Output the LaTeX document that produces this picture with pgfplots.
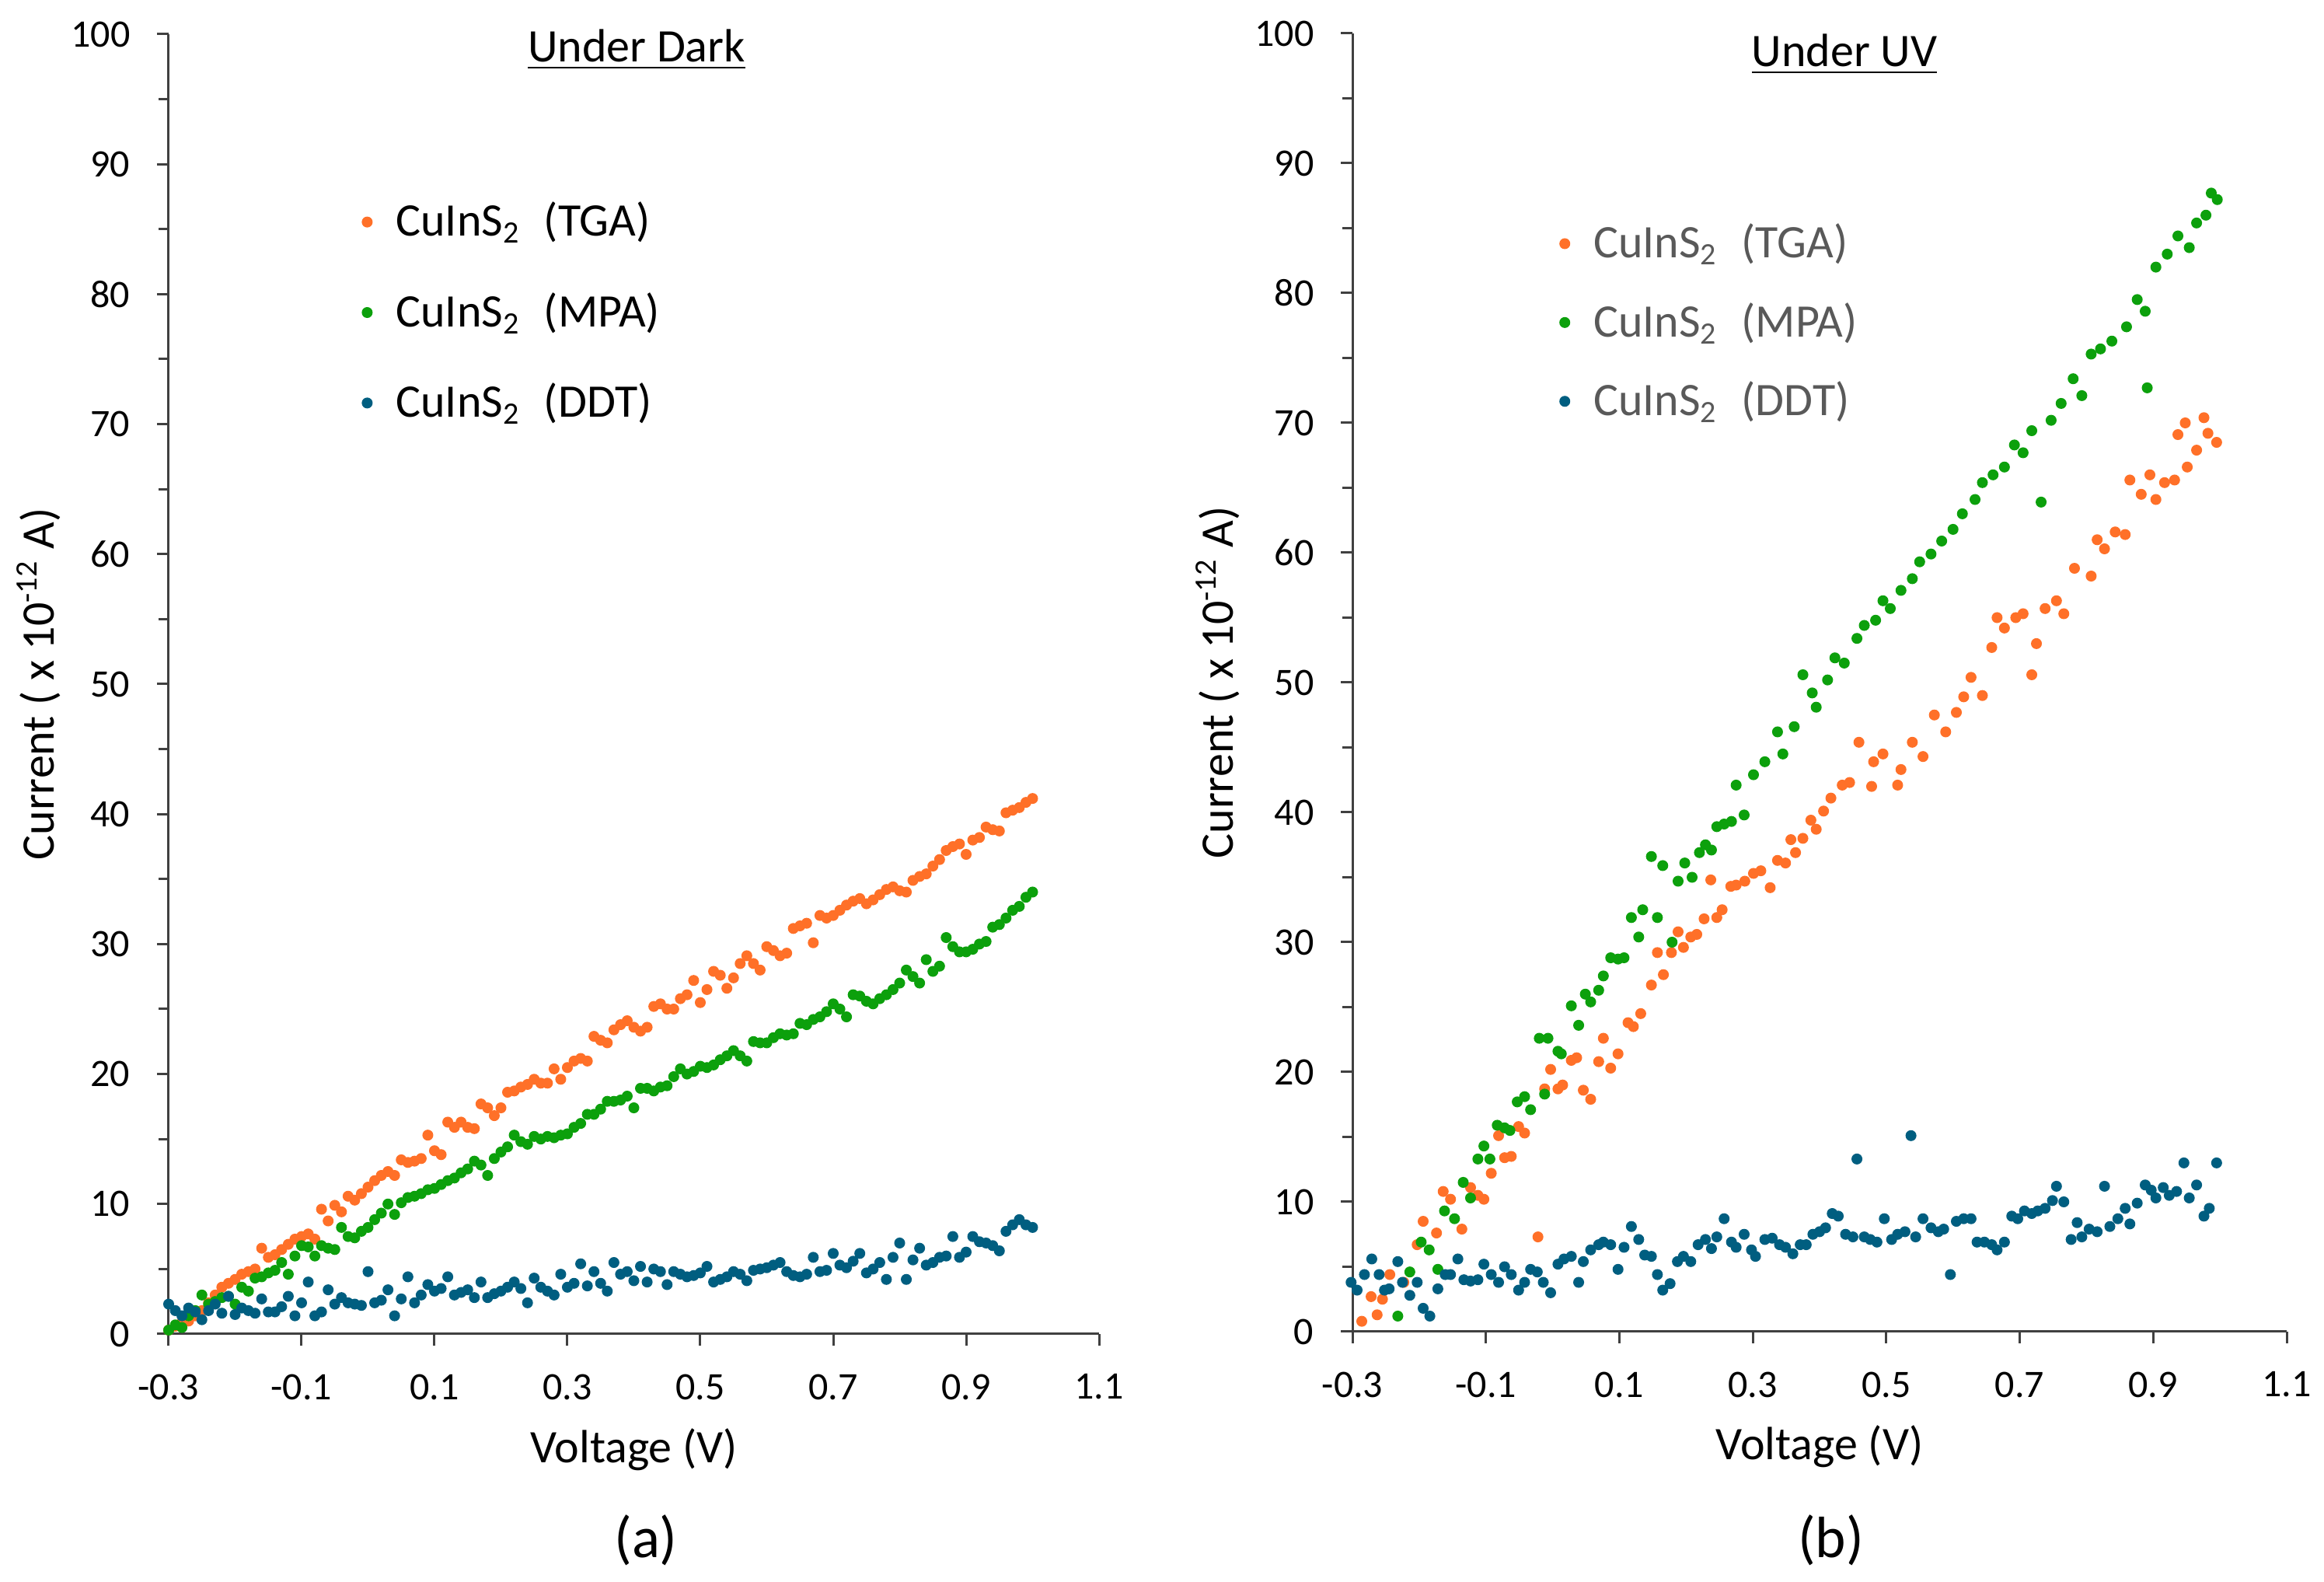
\documentclass[border=0pt]{standalone}
\usepackage{fontspec}
\setmainfont{Carlito}
\usepackage{pgfplots}
\pgfplotsset{compat=1.18}
\definecolor{cOr}{RGB}{255,112,40}
\definecolor{cGr}{RGB}{12,160,12}
\definecolor{cBl}{RGB}{0,94,128}
\definecolor{axc}{RGB}{64,64,64}
\pgfplotsset{
 myaxis/.style={
  scale only axis,
  axis x line=bottom, axis y line=left,
  axis line style={-, axc, line width=0.6pt},
  xmin=-0.3, xmax=1.1, ymin=0, ymax=100,
  xtick={-0.3,-0.1,0.1,0.3,0.5,0.7,0.9,1.1},
  xticklabels={-0.3,-0.1,0.1,0.3,0.5,0.7,0.9,1.1},
  ytick={0,10,...,100},
  minor ytick={5,15,...,95},
  tick align=outside,
  major tick length=3pt, minor tick length=2.6pt,
  tick style={axc, line width=0.6pt},
  /pgf/number format/assume math mode=true,
  ticklabel style={font=\fontsize{10}{12}\selectfont},
  yticklabel style={xshift=-3.4pt},
  xticklabel style={yshift=-3.8pt},
  label style={font=\fontsize{12}{14}\selectfont},
  legend cell align=left,
  legend style={draw=none, fill=none, font=\fontsize{12}{14}\selectfont, anchor=north west, row sep=9pt},
  clip=false,
 },
 ser/.style={only marks, mark=*, mark size=1.2pt, draw=#1, fill=#1,
   legend image code/.code={\draw[##1] plot coordinates {(0.1cm,0cm)}; \path[draw=none,fill=none] (0.1cm,0cm) -- (0.29cm,0cm);}},
}
\begin{document}
\begin{tikzpicture}
\path[use as bounding box] (0pt,0pt) rectangle (598pt,407pt);
% ---------------- left panel ----------------
\begin{axis}[myaxis, at={(43.4pt,63.8pt)}, anchor=south west, width=239.4pt, height=334.4pt,
  xlabel={Voltage (V)}, ylabel={Current ( x 10\textsuperscript{-12} A)},
  xlabel style={at={(axis description cs:0.5,-0.0891)}, anchor=center},
  ylabel style={at={(axis description cs:-0.1395,0.5)}, anchor=center},
  legend style={at={(axis description cs:0.195,0.8834)}}]
\addplot[ser=cOr] coordinates {(-0.30,0.3)(-0.29,0.6)(-0.28,0.9)(-0.27,1.0)(-0.26,1.4)(-0.25,1.8)(-0.24,2.4)(-0.23,3.0)(-0.22,3.6)(-0.21,3.9)(-0.20,4.2)(-0.19,4.6)(-0.18,4.8)(-0.17,5.0)(-0.16,6.6)(-0.15,5.9)(-0.14,6.1)(-0.13,6.5)(-0.12,6.9)(-0.11,7.3)(-0.10,7.5)(-0.09,7.7)(-0.08,7.3)(-0.07,9.6)(-0.06,8.7)(-0.05,9.9)(-0.04,9.4)(-0.03,10.6)(-0.02,10.3)(-0.01,10.8)(0.00,11.3)(0.01,11.8)(0.02,12.2)(0.03,12.5)(0.04,12.2)(0.05,13.4)(0.06,13.2)(0.07,13.3)(0.08,13.5)(0.09,15.3)(0.10,14.1)(0.11,13.8)(0.12,16.3)(0.13,15.9)(0.14,16.3)(0.15,15.9)(0.16,15.8)(0.17,17.7)(0.18,17.4)(0.19,16.8)(0.20,17.4)(0.21,18.6)(0.22,18.7)(0.23,19.0)(0.24,19.2)(0.25,19.6)(0.26,19.3)(0.27,19.3)(0.28,20.4)(0.29,19.6)(0.30,20.5)(0.31,21.0)(0.32,21.2)(0.33,21.0)(0.34,22.9)(0.35,22.6)(0.36,22.4)(0.37,23.4)(0.38,23.8)(0.39,24.1)(0.40,23.6)(0.41,23.3)(0.42,23.6)(0.43,25.2)(0.44,25.4)(0.45,25.0)(0.46,25.0)(0.47,25.8)(0.48,26.1)(0.49,27.2)(0.50,25.5)(0.51,26.5)(0.52,27.9)(0.53,27.6)(0.54,26.6)(0.55,27.4)(0.56,28.5)(0.57,29.1)(0.58,28.5)(0.59,28.0)(0.60,29.8)(0.61,29.5)(0.62,29.1)(0.63,29.3)(0.64,31.2)(0.65,31.4)(0.66,31.6)(0.67,30.1)(0.68,32.2)(0.69,32.0)(0.70,32.2)(0.71,32.6)(0.72,33.0)(0.73,33.3)(0.74,33.5)(0.75,33.1)(0.76,33.4)(0.77,33.8)(0.78,34.2)(0.79,34.4)(0.80,34.1)(0.81,34.0)(0.82,34.9)(0.83,35.2)(0.84,35.4)(0.85,36.0)(0.86,36.5)(0.87,37.2)(0.88,37.5)(0.89,37.7)(0.90,36.9)(0.91,38.0)(0.92,38.2)(0.93,39.0)(0.94,38.8)(0.95,38.7)(0.96,40.1)(0.97,40.3)(0.98,40.5)(0.99,40.9)(1.00,41.2)};
\addlegendentry{CuInS\textsubscript{2}\enspace(TGA)}
\addplot[ser=cGr] coordinates {(-0.30,0.3)(-0.29,0.7)(-0.28,0.5)(-0.27,1.4)(-0.26,1.8)(-0.25,3.0)(-0.24,2.3)(-0.23,2.5)(-0.22,2.8)(-0.21,2.9)(-0.20,2.3)(-0.19,3.6)(-0.18,3.3)(-0.17,4.3)(-0.16,4.4)(-0.15,4.7)(-0.14,4.9)(-0.13,5.5)(-0.12,4.6)(-0.11,6.0)(-0.10,6.8)(-0.09,6.7)(-0.08,6.0)(-0.07,6.8)(-0.06,6.6)(-0.05,6.5)(-0.04,8.2)(-0.03,7.5)(-0.02,7.4)(-0.01,7.9)(0.00,8.2)(0.01,8.8)(0.02,9.3)(0.03,10.0)(0.04,9.2)(0.05,10.1)(0.06,10.5)(0.07,10.6)(0.08,10.8)(0.09,11.1)(0.10,11.2)(0.11,11.5)(0.12,11.8)(0.13,12.0)(0.14,12.4)(0.15,12.7)(0.16,13.3)(0.17,13.0)(0.18,12.2)(0.19,13.5)(0.20,14.0)(0.21,14.4)(0.22,15.3)(0.23,14.8)(0.24,14.6)(0.25,15.2)(0.26,15.0)(0.27,15.2)(0.28,15.1)(0.29,15.3)(0.30,15.4)(0.31,15.9)(0.32,16.2)(0.33,16.9)(0.34,16.9)(0.35,17.3)(0.36,17.9)(0.37,17.9)(0.38,18.0)(0.39,18.3)(0.40,17.4)(0.41,18.9)(0.42,18.9)(0.43,18.7)(0.44,19.0)(0.45,19.1)(0.46,19.8)(0.47,20.4)(0.48,20.0)(0.49,20.2)(0.50,20.6)(0.51,20.5)(0.52,20.7)(0.53,21.1)(0.54,21.4)(0.55,21.8)(0.56,21.4)(0.57,21.0)(0.58,22.5)(0.59,22.4)(0.60,22.4)(0.61,22.8)(0.62,23.1)(0.63,23.0)(0.64,23.1)(0.65,23.9)(0.66,23.8)(0.67,24.2)(0.68,24.4)(0.69,24.8)(0.70,25.4)(0.71,25.0)(0.72,24.4)(0.73,26.1)(0.74,26.0)(0.75,25.6)(0.76,25.4)(0.77,25.8)(0.78,26.1)(0.79,26.5)(0.80,27.0)(0.81,28.0)(0.82,27.5)(0.83,27.0)(0.84,28.8)(0.85,27.9)(0.86,28.3)(0.87,30.5)(0.88,29.8)(0.89,29.4)(0.90,29.4)(0.91,29.6)(0.92,30.0)(0.93,30.2)(0.94,31.3)(0.95,31.5)(0.96,32.0)(0.97,32.6)(0.98,32.9)(0.99,33.6)(1.00,34.0)};
\addlegendentry{CuInS\textsubscript{2}\enspace(MPA)}
\addplot[ser=cBl] coordinates {(-0.30,2.3)(-0.29,1.8)(-0.28,1.4)(-0.27,2.0)(-0.26,1.7)(-0.25,1.1)(-0.24,1.8)(-0.23,2.3)(-0.22,1.6)(-0.21,2.9)(-0.20,1.5)(-0.19,2.0)(-0.18,1.8)(-0.17,1.6)(-0.16,2.7)(-0.15,1.7)(-0.14,1.7)(-0.13,2.1)(-0.12,2.9)(-0.11,1.4)(-0.10,2.4)(-0.09,4.0)(-0.08,1.4)(-0.07,1.7)(-0.06,3.4)(-0.05,2.3)(-0.04,2.8)(-0.03,2.4)(-0.02,2.3)(-0.01,2.2)(0.00,4.8)(0.01,2.4)(0.02,2.6)(0.03,3.4)(0.04,1.4)(0.05,2.7)(0.06,4.4)(0.07,2.4)(0.08,3.0)(0.09,3.8)(0.10,3.3)(0.11,3.5)(0.12,4.4)(0.13,3.0)(0.14,3.2)(0.15,3.4)(0.16,2.8)(0.17,4.0)(0.18,2.8)(0.19,3.1)(0.20,3.3)(0.21,3.6)(0.22,4.0)(0.23,3.5)(0.24,2.4)(0.25,4.3)(0.26,3.6)(0.27,3.3)(0.28,3.0)(0.29,4.6)(0.30,3.6)(0.31,3.9)(0.32,5.4)(0.33,3.7)(0.34,4.8)(0.35,3.9)(0.36,3.3)(0.37,5.5)(0.38,4.6)(0.39,4.8)(0.40,4.1)(0.41,5.2)(0.42,4.0)(0.43,5.0)(0.44,4.8)(0.45,3.8)(0.46,4.8)(0.47,4.6)(0.48,4.4)(0.49,4.5)(0.50,4.7)(0.51,5.2)(0.52,4.0)(0.53,4.2)(0.54,4.4)(0.55,4.8)(0.56,4.6)(0.57,4.1)(0.58,4.9)(0.59,5.0)(0.60,5.1)(0.61,5.3)(0.62,5.5)(0.63,4.8)(0.64,4.5)(0.65,4.4)(0.66,4.6)(0.67,5.9)(0.68,4.8)(0.69,4.9)(0.70,6.2)(0.71,5.3)(0.72,5.1)(0.73,5.6)(0.74,6.2)(0.75,4.7)(0.76,5.0)(0.77,5.5)(0.78,4.2)(0.79,5.9)(0.80,7.0)(0.81,4.2)(0.82,5.7)(0.83,6.6)(0.84,5.3)(0.85,5.5)(0.86,5.9)(0.87,6.0)(0.88,7.5)(0.89,5.9)(0.90,6.3)(0.91,7.5)(0.92,7.1)(0.93,7.0)(0.94,6.8)(0.95,6.4)(0.96,7.9)(0.97,8.4)(0.98,8.8)(0.99,8.4)(1.00,8.2)};
\addlegendentry{CuInS\textsubscript{2}\enspace(DDT)}
\end{axis}
% ---------------- right panel ----------------
\begin{axis}[myaxis, at={(348pt,64.4pt)}, anchor=south west, width=240.4pt, height=334pt,
  xlabel={Voltage (V)}, ylabel={Current ( x 10\textsuperscript{-12} A)},
  xlabel style={at={(axis description cs:0.5,-0.0886)}, anchor=center},
  ylabel style={at={(axis description cs:-0.144,0.5)}, anchor=center},
  legend style={at={(axis description cs:0.209,0.866)}, text=black!65, row sep=6pt}]
\addplot[ser=cOr] coordinates {(-0.286,0.8)(-0.272,2.7)(-0.263,1.3)(-0.255,2.5)(-0.244,4.4)(-0.223,3.8)(-0.203,6.7)(-0.194,8.5)(-0.174,7.6)(-0.164,10.8)(-0.153,10.2)(-0.136,7.9)(-0.123,11.1)(-0.112,10.5)(-0.103,10.2)(-0.092,12.2)(-0.081,15.1)(-0.072,13.4)(-0.062,13.5)(-0.051,15.8)(-0.042,15.3)(-0.022,7.3)(-0.012,18.7)(-0.003,20.2)(0.008,18.7)(0.015,19.0)(0.028,20.9)(0.036,21.1)(0.046,18.6)(0.057,17.9)(0.069,20.8)(0.076,22.6)(0.087,20.3)(0.098,21.4)(0.113,23.8)(0.121,23.5)(0.132,24.5)(0.148,26.7)(0.157,29.2)(0.166,27.5)(0.178,29.2)(0.188,30.8)(0.196,29.6)(0.207,30.4)(0.216,30.6)(0.227,31.8)(0.237,34.8)(0.246,31.9)(0.254,32.5)(0.267,34.3)(0.275,34.4)(0.288,34.7)(0.301,35.3)(0.312,35.5)(0.326,34.2)(0.337,36.3)(0.349,36.1)(0.357,37.9)(0.364,36.9)(0.375,38.0)(0.387,39.4)(0.395,38.7)(0.406,40.1)(0.417,41.1)(0.434,42.1)(0.445,42.3)(0.459,45.4)(0.478,42.0)(0.481,43.9)(0.495,44.5)(0.517,42.1)(0.522,43.3)(0.539,45.4)(0.555,44.3)(0.572,47.5)(0.589,46.2)(0.605,47.7)(0.616,48.9)(0.627,50.4)(0.644,49.0)(0.658,52.7)(0.666,55.0)(0.677,54.2)(0.694,55.0)(0.705,55.3)(0.718,50.6)(0.725,53.0)(0.738,55.7)(0.755,56.3)(0.766,55.3)(0.782,58.8)(0.807,58.2)(0.816,61.0)(0.827,60.3)(0.843,61.6)(0.858,61.4)(0.865,65.6)(0.882,64.5)(0.895,66.0)(0.904,64.1)(0.917,65.4)(0.932,65.6)(0.937,69.1)(0.948,70.0)(0.951,66.6)(0.965,67.9)(0.976,70.4)(0.982,69.2)(0.995,68.5)};
\addlegendentry{CuInS\textsubscript{2}\enspace(TGA)}
\addplot[ser=cGr] coordinates {(-0.232,1.2)(-0.214,4.6)(-0.197,6.9)(-0.185,6.3)(-0.172,4.8)(-0.162,9.3)(-0.147,8.7)(-0.134,11.5)(-0.123,10.3)(-0.112,13.3)(-0.103,14.3)(-0.094,13.3)(-0.083,15.9)(-0.072,15.7)(-0.064,15.5)(-0.053,17.7)(-0.042,18.1)(-0.033,17.1)(-0.020,22.6)(-0.012,18.3)(-0.007,22.6)(0.008,21.6)(0.013,21.4)(0.028,25.1)(0.039,23.6)(0.049,26.0)(0.057,25.4)(0.069,26.3)(0.076,27.4)(0.087,28.8)(0.098,28.7)(0.107,28.8)(0.118,31.9)(0.129,30.4)(0.135,32.5)(0.148,36.6)(0.157,31.9)(0.165,35.9)(0.179,30.0)(0.188,34.7)(0.198,36.1)(0.209,35.0)(0.220,36.9)(0.229,37.5)(0.238,37.1)(0.246,38.9)(0.257,39.1)(0.268,39.3)(0.275,42.1)(0.287,39.8)(0.301,42.9)(0.318,43.9)(0.337,46.2)(0.345,44.5)(0.362,46.6)(0.375,50.6)(0.389,49.2)(0.395,48.1)(0.412,50.2)(0.423,51.9)(0.437,51.5)(0.456,53.4)(0.467,54.4)(0.484,54.8)(0.495,56.3)(0.506,55.7)(0.522,57.1)(0.539,58.0)(0.550,59.3)(0.567,59.9)(0.583,60.9)(0.600,61.8)(0.614,63.0)(0.633,64.1)(0.644,65.4)(0.660,66.0)(0.677,66.6)(0.692,68.3)(0.705,67.7)(0.718,69.4)(0.732,63.9)(0.747,70.2)(0.762,71.5)(0.780,73.4)(0.793,72.1)(0.807,75.3)(0.821,75.7)(0.838,76.3)(0.860,77.4)(0.876,79.5)(0.888,78.6)(0.891,72.7)(0.904,82.0)(0.921,83.0)(0.937,84.4)(0.954,83.5)(0.965,85.4)(0.979,86.0)(0.987,87.7)(0.996,87.2)};
\addlegendentry{CuInS\textsubscript{2}\enspace(MPA)}
\addplot[ser=cBl] coordinates {(-0.302,3.8)(-0.293,3.2)(-0.282,4.4)(-0.271,5.6)(-0.260,4.4)(-0.252,3.2)(-0.245,3.3)(-0.232,5.4)(-0.225,3.8)(-0.214,2.8)(-0.203,3.8)(-0.194,1.8)(-0.184,1.2)(-0.172,3.3)(-0.161,4.4)(-0.153,4.4)(-0.142,5.6)(-0.133,4.0)(-0.123,3.9)(-0.112,4.0)(-0.103,5.2)(-0.092,4.4)(-0.081,3.8)(-0.072,5.0)(-0.062,4.4)(-0.051,3.2)(-0.042,3.8)(-0.033,4.8)(-0.023,4.6)(-0.014,3.8)(-0.003,3.0)(0.008,5.2)(0.017,5.6)(0.028,5.8)(0.039,3.8)(0.046,5.4)(0.057,6.3)(0.069,6.7)(0.076,6.9)(0.087,6.7)(0.098,4.8)(0.107,6.5)(0.118,8.1)(0.129,7.1)(0.138,5.9)(0.148,5.8)(0.157,4.4)(0.165,3.2)(0.176,3.7)(0.187,5.4)(0.196,5.8)(0.207,5.4)(0.218,6.7)(0.229,7.1)(0.238,6.4)(0.246,7.3)(0.257,8.7)(0.268,6.9)(0.275,6.5)(0.287,7.5)(0.298,6.3)(0.304,5.8)(0.318,7.1)(0.329,7.2)(0.340,6.7)(0.349,6.5)(0.360,6.0)(0.371,6.7)(0.380,6.7)(0.390,7.5)(0.400,7.7)(0.409,8.0)(0.419,9.1)(0.428,8.9)(0.439,7.5)(0.450,7.3)(0.456,13.3)(0.467,7.3)(0.476,7.1)(0.486,6.9)(0.497,8.7)(0.508,7.1)(0.517,7.5)(0.528,7.7)(0.537,15.1)(0.544,7.3)(0.555,8.7)(0.567,8.0)(0.578,7.7)(0.586,7.9)(0.596,4.4)(0.605,8.5)(0.616,8.7)(0.627,8.7)(0.636,6.9)(0.647,6.9)(0.658,6.7)(0.666,6.3)(0.677,6.9)(0.688,8.9)(0.697,8.7)(0.707,9.3)(0.718,9.1)(0.727,9.3)(0.738,9.5)(0.749,10.1)(0.755,11.2)(0.766,10.0)(0.777,7.1)(0.786,8.4)(0.793,7.3)(0.804,7.9)(0.816,7.7)(0.827,11.2)(0.835,8.1)(0.847,8.7)(0.858,9.5)(0.865,8.3)(0.876,9.9)(0.888,11.3)(0.897,10.9)(0.904,10.3)(0.915,11.1)(0.924,10.5)(0.935,10.8)(0.946,13.0)(0.954,10.3)(0.965,11.3)(0.976,8.9)(0.984,9.5)(0.995,13.0)};
\addlegendentry{CuInS\textsubscript{2}\enspace(DDT)}
\end{axis}
% titles and panel labels
\node at (163.8pt,394.2pt) {\fontsize{12}{14}\selectfont\underline{Under Dark}};
\node at (474.6pt,393pt) {\fontsize{12}{14}\selectfont\underline{Under UV}};
\node at (166.2pt,10.8pt) {\fontsize{15}{18}\selectfont (a)};
\node at (471.1pt,10.8pt) {\fontsize{15}{18}\selectfont (b)};
\end{tikzpicture}
\end{document}
